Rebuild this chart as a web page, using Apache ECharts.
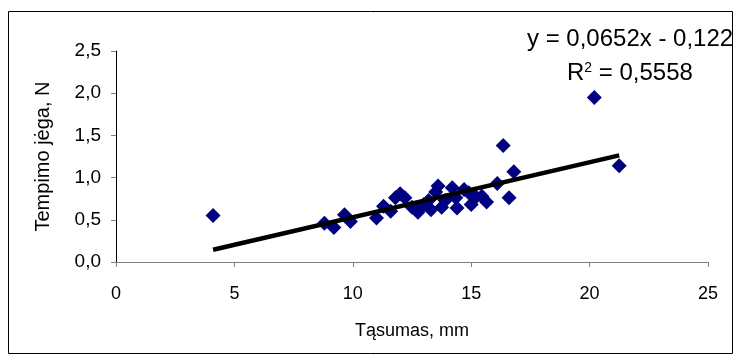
<!DOCTYPE html>
<html>
<head>
<meta charset="utf-8">
<script src="https://cdn.jsdelivr.net/npm/echarts@6/dist/echarts.min.js"></script>
<style>
  html, body { margin: 0; padding: 0; background: #fff; }
  #chart { width: 737px; height: 364px; }
</style>
</head>
<body>
<div id="chart"></div>
<script>
// measured points (Tąsumas, mm -> Tempimo jėga, N)
const xValues = [4.1, 8.8, 9.2, 9.65, 9.9, 11.0, 11.3, 11.6, 11.8, 12.0, 12.2, 12.5, 12.75, 13.0, 13.2, 13.3, 13.5, 13.6, 13.75, 13.9, 14.2, 14.35, 14.4, 14.7, 14.9, 15.0, 15.2, 15.45, 15.65, 16.1, 16.35, 16.6, 16.8, 20.2, 21.25];
const yValues = [0.55, 0.46, 0.41, 0.56, 0.48, 0.52, 0.66, 0.60, 0.76, 0.81, 0.76, 0.65, 0.59, 0.68, 0.73, 0.62, 0.83, 0.90, 0.65, 0.73, 0.88, 0.76, 0.64, 0.86, 0.82, 0.68, 0.77, 0.78, 0.71, 0.93, 1.38, 0.76, 1.07, 1.95, 1.14];

// linear trend y = 0,0652x - 0,122, drawn over the data range
const trendX = [4.1, 21.25];
const trendY = [0.145, 1.264];

const xTicks = [0, 5, 10, 15, 20, 25];
const yTicks = [0, 0.5, 1.0, 1.5, 2.0, 2.5];

const equationText = "y = 0,0652x - 0,122";
const r2Text = "0,5558";

const font = "Liberation Sans, Arial, sans-serif";

let chart = echarts.init(document.getElementById("chart"));

let option = {
  animation: false,
  backgroundColor: "#fff",
  grid: { left: 116, right: 29, top: 51, bottom: 102 },
  xAxis: {
    type: "value",
    min: xTicks[0],
    max: xTicks[xTicks.length - 1],
    interval: 5,
    name: "Tąsumas, mm",
    nameLocation: "middle",
    nameGap: 60,
    nameTextStyle: { fontFamily: font, fontSize: 18, color: "#000" },
    axisLine: { show: true, lineStyle: { color: "#808080", width: 1 } },
    axisTick: { show: true, inside: false, length: 5, lineStyle: { color: "#808080" } },
    axisLabel: { fontFamily: font, fontSize: 18, color: "#000", margin: 23 },
    splitLine: { show: false },
  },
  yAxis: {
    type: "value",
    min: yTicks[0],
    max: yTicks[yTicks.length - 1],
    interval: 0.5,
    name: "Tempimo jėga, N",
    nameLocation: "middle",
    nameGap: 63,
    nameRotate: 90,
    nameTextStyle: { fontFamily: font, fontSize: 20, color: "#000" },
    axisLine: { show: true, lineStyle: { color: "#000", width: 1 } },
    axisTick: { show: true, inside: false, length: 5, lineStyle: { color: "#808080" } },
    axisLabel: {
      fontFamily: font,
      fontSize: 19,
      color: "#000",
      margin: 15,
      formatter: function (v) {
        return v.toFixed(1).replace(".", ",");
      },
    },
    splitLine: { show: false },
  },
  graphic: [
    {
      type: "rect",
      shape: { x: 8.5, y: 11.5, width: 724, height: 342 },
      style: { fill: null, stroke: "#000", lineWidth: 1 },
      z: -1,
    },
    {
      type: "text",
      left: 527,
      top: 27,
      style: { text: equationText, fontFamily: font, fontSize: 24, fill: "#000" },
    },
    {
      type: "text",
      left: 567,
      top: 61,
      style: {
        text: "{b|R}{s|2}{b| = " + r2Text + "}",
        fontFamily: font,
        rich: {
          b: { fontFamily: font, fontSize: 24, color: "#000", verticalAlign: "bottom" },
          s: { fontFamily: font, fontSize: 14, color: "#000", verticalAlign: "top", padding: [0, 0, 10, 0] },
        },
      },
    },
  ],
  series: [
    {
      type: "line",
      data: trendX.map((x, i) => [x, trendY[i]]),
      showSymbol: false,
      symbol: "none",
      lineStyle: { color: "#000", width: 4.5 },
      z: 3,
    },
    {
      type: "scatter",
      data: xValues.map((x, i) => [x, yValues[i]]),
      symbol: "diamond",
      symbolSize: 15,
      itemStyle: { color: "#000080", opacity: 1 },
      z: 2,
    },
  ],
};
chart.setOption(option);
</script>
</body>
</html>
